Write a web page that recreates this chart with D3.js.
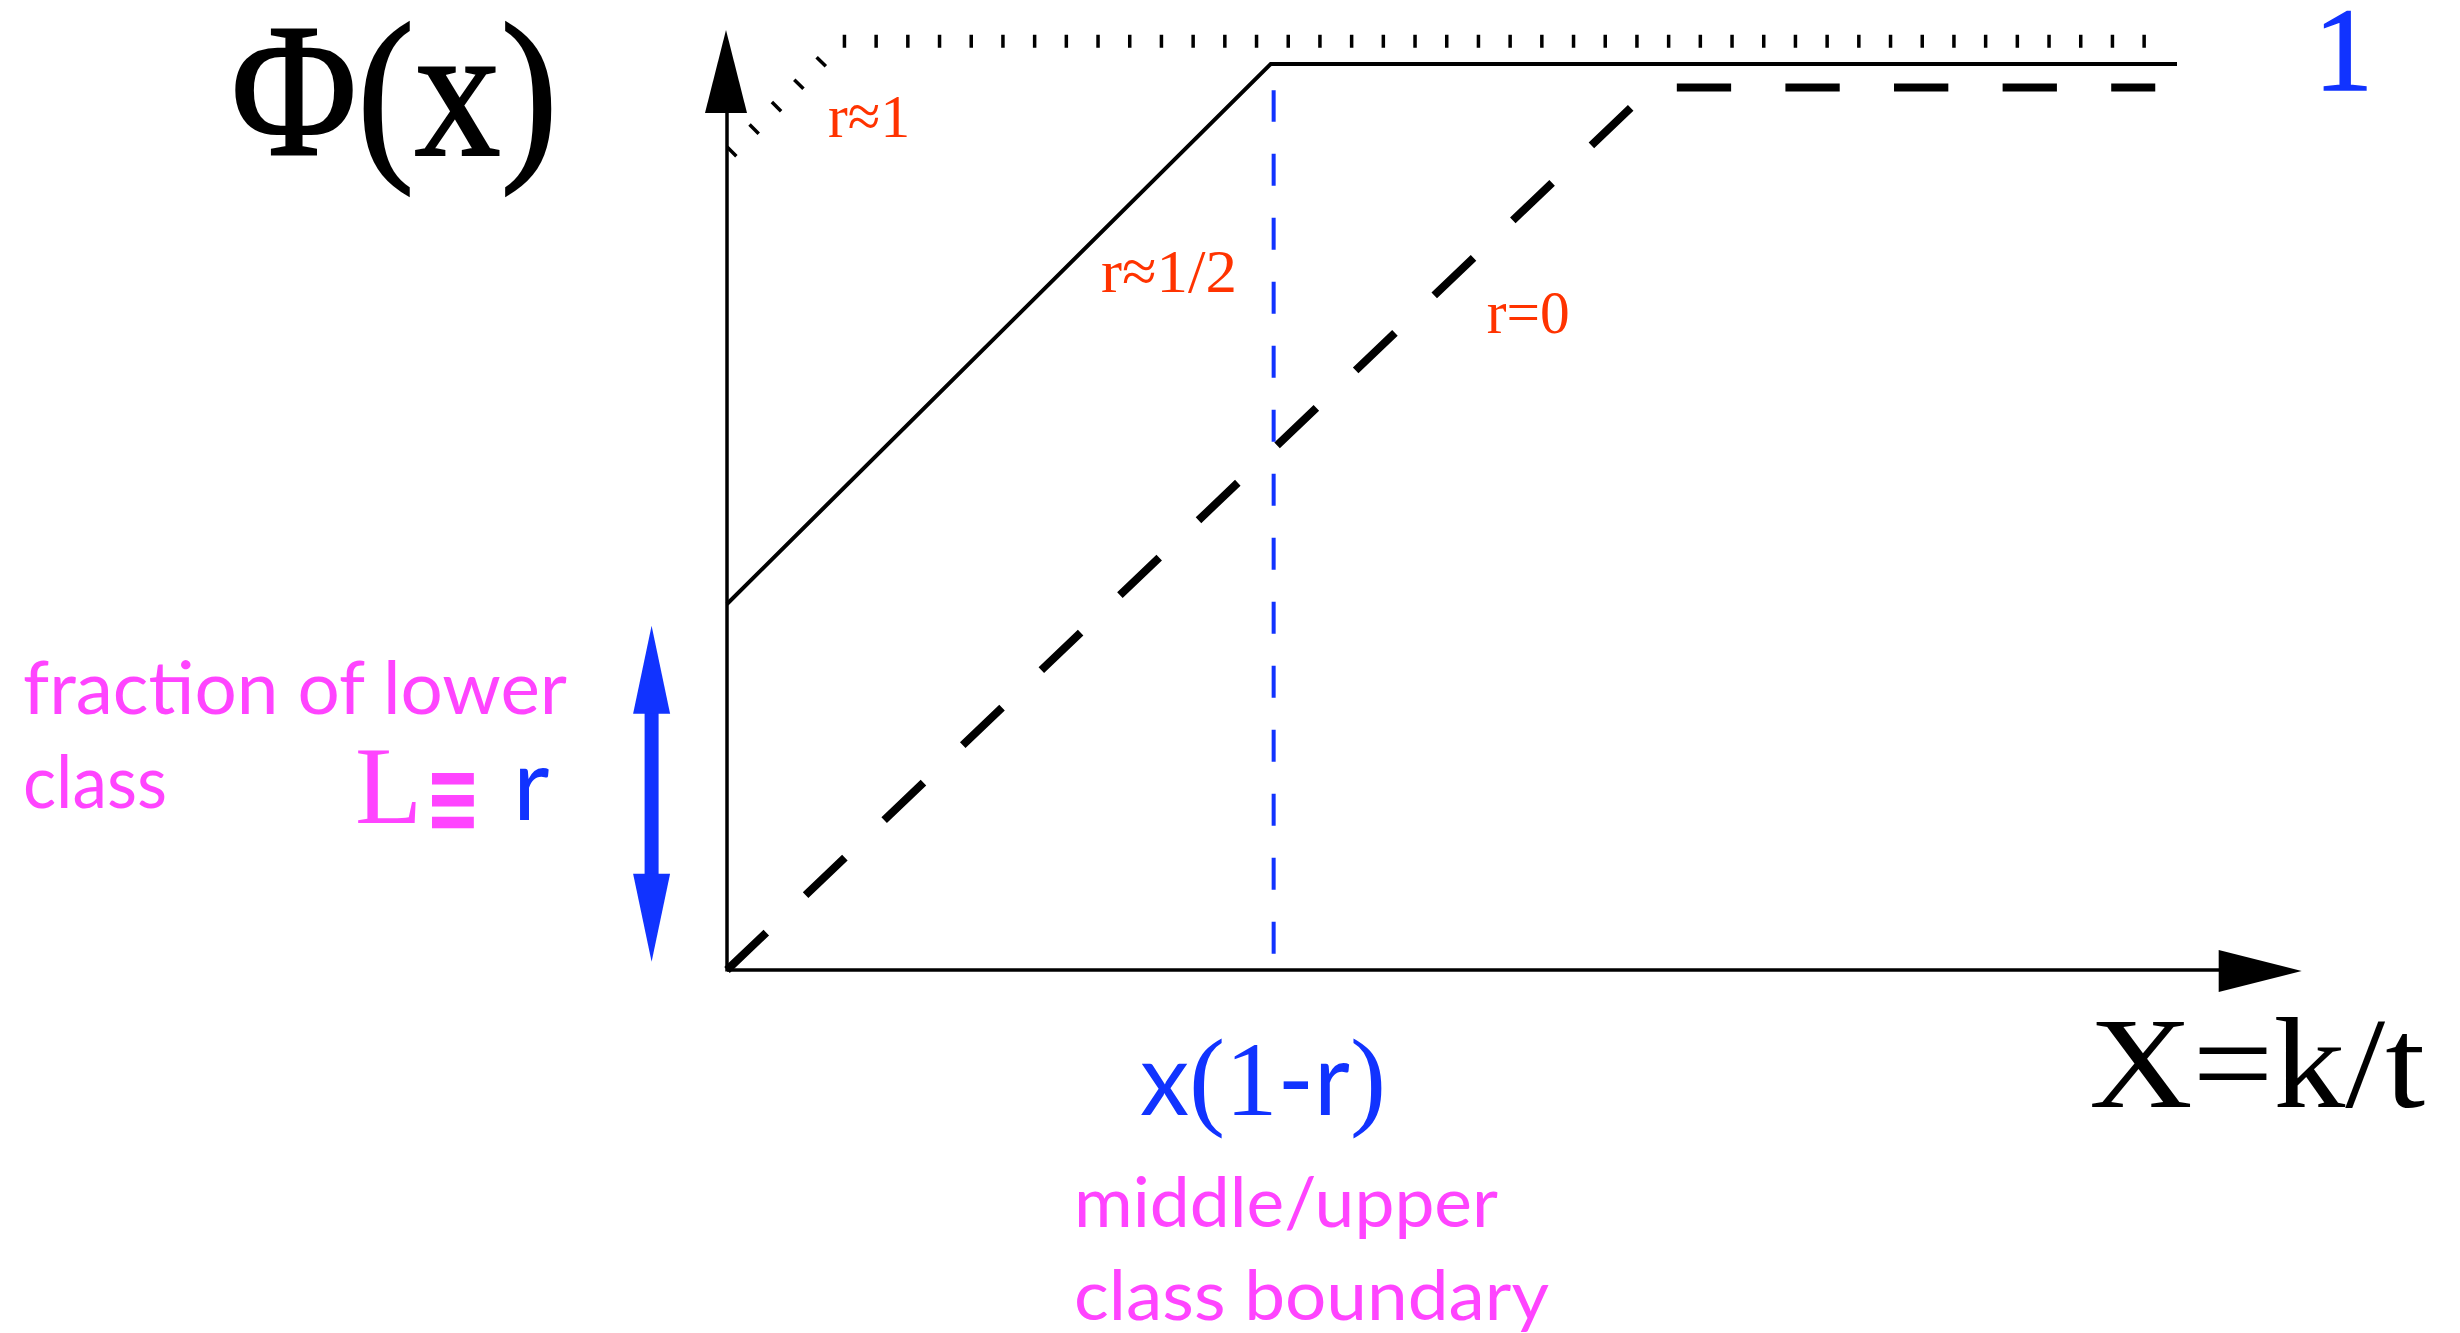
<!DOCTYPE html>
<html>
<head>
<meta charset="utf-8">
<title>Phi(x) and the class boundary</title>
<script src="https://d3js.org/d3.v7.min.js"></script>
<style>
  body { margin: 0; background: #fff; }
  .serif { font-family: "Liberation Serif", "DejaVu Serif", serif; }
  .sans  { font-family: Lato, "Open Sans", sans-serif; }
</style>
</head>
<body>
<svg id="chart" width="2460" height="1333"></svg>
<script>
// curves of Phi(x) (x units: 1 = end of solid plateau)
const curveOne  = [[0, 0.898], [0.079, 1.025], [0.981, 1.025]];  // r≈1, dotted
const curveHalf = [[0, 0.404], [0.375, 1.0], [1.0, 1.0]];        // r≈1/2, solid
const curveZero = [[0, 0], [0.638, 0.974], [0.985, 0.974]];      // r=0, dashed
const curveNames = ["r≈1", "r≈1/2", "r=0"];

// x(1-r) boundary and the lower class fraction L ≡ r
const boundaryX = 0.377;
const boundarySpan = [0.018, 0.971];
const lowerX = -0.052;
const lowerSpan = [0.009, 0.38];

// axis extents
const xAxisEnd = 1.086;
const yAxisEnd = 1.0375;

const svg = d3.select("#chart");
const black = "#000", blue = "#1133ff", red = "#ff3300", pink = "#ff44ff";

const x = d3.scaleLinear().domain([0, 1]).range([727, 2177]);
const y = d3.scaleLinear().domain([0, 1]).range([970, 64]);
const line = d3.line().x(d => x(d[0])).y(d => y(d[1]));

// plotted curves
svg.append("path").attr("d", line(curveOne))
  .attr("fill", "none").attr("stroke", black).attr("stroke-width", 13)
  .attr("stroke-dasharray", "3.5 28.2").attr("stroke-dashoffset", -5);
svg.append("path").attr("d", line(curveHalf))
  .attr("fill", "none").attr("stroke", black).attr("stroke-width", 4);
svg.append("path").attr("d", line(curveZero))
  .attr("fill", "none").attr("stroke", black).attr("stroke-width", 8)
  .attr("stroke-dasharray", "54.3 54.3");

// boundary line
svg.append("path").attr("d", line(boundarySpan.map(v => [boundaryX, v])))
  .attr("stroke", blue).attr("stroke-width", 4).attr("stroke-dasharray", "32 32");

// arrows
function arrowHead(tx, ty, dx, dy, len, half, col) {
  const bx = tx - dx * len, by = ty - dy * len;
  const pts = [[tx, ty], [bx - dy * half, by + dx * half], [bx + dy * half, by - dx * half]];
  svg.append("polygon").attr("points", pts.map(p => p.join(",")).join(" ")).attr("fill", col);
}

svg.append("line")
  .attr("x1", x(0)).attr("y1", y(0)).attr("x2", x(xAxisEnd) - 70).attr("y2", y(0))
  .attr("stroke", black).attr("stroke-width", 3.5);
arrowHead(x(xAxisEnd), y(0) + 1, 1, 0, 83, 21, black);

svg.append("line")
  .attr("x1", x(0)).attr("y1", y(0) + 1.5).attr("x2", x(0)).attr("y2", y(yAxisEnd) + 70)
  .attr("stroke", black).attr("stroke-width", 3.5);
arrowHead(x(0) - 1, y(yAxisEnd), 0, -1, 83, 21, black);

const lx = x(lowerX);
svg.append("line")
  .attr("x1", lx).attr("y1", y(lowerSpan[1]) + 80).attr("x2", lx).attr("y2", y(lowerSpan[0]) - 80)
  .attr("stroke", blue).attr("stroke-width", 14);
arrowHead(lx, y(lowerSpan[1]), 0, -1, 88, 18.5, blue);
arrowHead(lx, y(lowerSpan[0]), 0, 1, 88, 18.5, blue);

// texts
function label(cls, txt, px, py, size, col, len) {
  const t = svg.append("text").attr("class", cls)
    .attr("x", px).attr("y", py).attr("font-size", size).attr("fill", col).text(txt);
  if (len) t.attr("textLength", len).attr("lengthAdjust", "spacingAndGlyphs");
  return t;
}

label("serif", "Φ(x)", 231, 155, 190, black, 327).attr("stroke", black).attr("stroke-width", 2);
label("serif", "1", 2314, 90, 118, blue).attr("stroke", blue).attr("stroke-width", 1.5);
label("serif", "X=k/t", 2089, 1107, 129, black, 336);

const namePos = [[0.0697, 0.919], [0.258, 0.748], [0.524, 0.703]];
const nameLen = [82, 136, 83];
curveNames.forEach((n, i) =>
  label("serif", n, x(namePos[i][0]), y(namePos[i][1]), 62, red, nameLen[i]));

label("sans", "fraction of lower", 23, 714, 74, pink, 544);
label("sans", "class", 23, 808, 74, pink, 144);
label("sans", "middle/upper", 1074, 1227, 70, pink, 424);
label("sans", "class boundary", 1074, 1320, 70, pink, 475);

// L ≡ r
label("serif", "L", 355, 823, 110, pink);
label("sans", "≡", 425, 832, 100, pink, 56).style("font-family", "'DejaVu Sans', sans-serif").attr("font-weight", "bold");
label("sans", "r", 513, 820, 100, blue);

// x(1-r)
const xr = svg.append("text").attr("x", 1140).attr("y", 1115).attr("fill", blue)
  .attr("textLength", 246).attr("lengthAdjust", "spacingAndGlyphs");
[["x", "sans", 100], ["(", "serif", 110], ["1", "serif", 106], ["-", "sans", 100], ["r", "sans", 100], [")", "serif", 110]]
  .forEach(p => xr.append("tspan").attr("class", p[1]).attr("font-size", p[2]).text(p[0]));
</script>
</body>
</html>
